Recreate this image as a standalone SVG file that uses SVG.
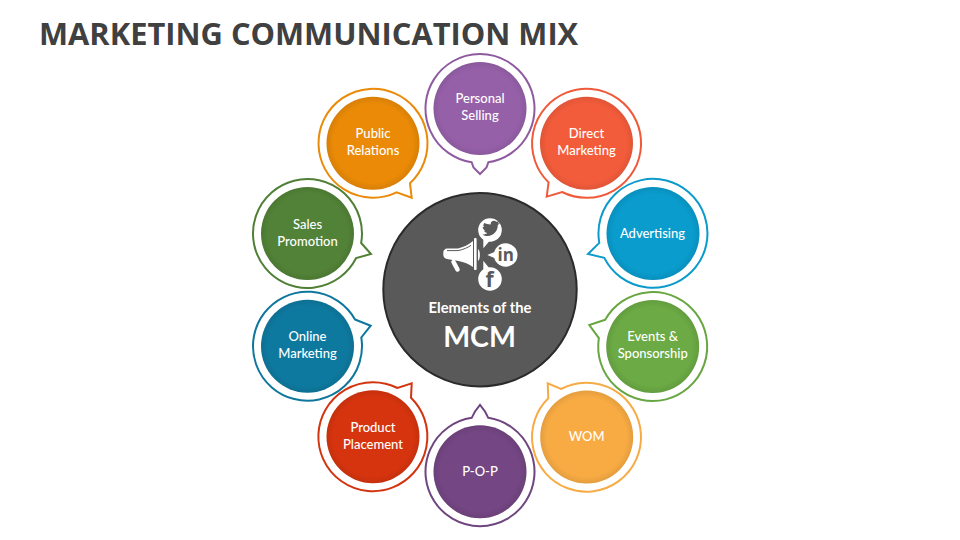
<svg xmlns="http://www.w3.org/2000/svg" width="960" height="540" viewBox="0 0 960 540">
<defs>
<radialGradient id="shade" cx="0.5" cy="0.5" r="0.5">
<stop offset="0.85" stop-color="#000" stop-opacity="0"/>
<stop offset="1" stop-color="#000" stop-opacity="0.08"/>
</radialGradient>
</defs>
<style>
.title{font-family:"Open Sans","Liberation Sans",sans-serif;font-weight:700;font-size:30.83px;fill:#404040}
.lbl{font-family:Lato,"Open Sans",sans-serif;font-size:13px;font-weight:500;fill:#fff;text-anchor:middle}
.ring{fill:#fff;stroke-width:2;stroke-linejoin:miter}
.sh{fill:url(#shade)}
.hub{font-family:Lato,"Open Sans",sans-serif;font-weight:700;fill:#fff;text-anchor:middle}
.ic{fill:#fff}
</style>
<rect width="960" height="540" fill="#fff"/>
<text class="title" x="39" y="45">MARKETING COMMUNICATION MIX</text>

<g id="node-personal-selling">
<path class="ring" stroke="#8E5BA0" d="M471.7 162.36 L473.5 167.5 L480 174 L486.5 167.5 L488.3 162.36 A54.5 54.5 0 1 0 471.7 162.36 Z"/>
<circle cx="480" cy="108.5" r="46.5" fill="#9660A9"/><circle class="sh" cx="480" cy="108.5" r="46.5"/>
<text class="lbl" x="480" y="102.7">Personal</text><text class="lbl" x="480" y="120">Selling</text>
</g>
<g id="node-direct-marketing">
<path class="ring" stroke="#F05A3A" d="M548.6 182.4 L546.7 196.7 L562.1 192 A54.5 54.5 0 1 0 548.6 182.4 Z"/>
<circle cx="586.5" cy="143.3" r="46.5" fill="#F35C3B"/><circle class="sh" cx="586.5" cy="143.3" r="46.5"/>
<text class="lbl" x="586.5" y="138">Direct</text><text class="lbl" x="586.5" y="155">Marketing</text>
</g>
<g id="node-advertising">
<path class="ring" stroke="#0A9BCB" d="M599.3 242.9 L588 254 L604.3 257.9 A54.5 54.5 0 1 0 599.3 242.9 Z"/>
<circle cx="653" cy="233.5" r="46.5" fill="#099CCD"/><circle class="sh" cx="653" cy="233.5" r="46.5"/>
<text class="lbl" x="652.5" y="237.7">Advertising</text>
</g>
<g id="node-events-sponsorship">
<path class="ring" stroke="#68A642" d="M605.2 319.8 L589.3 325 L598.85 338.1 A54.5 54.5 0 1 0 605.2 319.8 Z"/>
<circle cx="652.7" cy="346.5" r="46.5" fill="#6BAA44"/><circle class="sh" cx="652.7" cy="346.5" r="46.5"/>
<text class="lbl" x="652.7" y="341">Events &amp;</text><text class="lbl" x="652.7" y="358">Sponsorship</text>
</g>
<g id="node-wom">
<path class="ring" stroke="#F7AB45" d="M548.3 398.3 L547.7 383.3 L561 389 A54.5 54.5 0 1 1 548.3 398.3 Z"/>
<circle cx="586.7" cy="437" r="46.5" fill="#F8AB43"/><circle class="sh" cx="586.7" cy="437" r="46.5"/>
<text class="lbl" x="586.7" y="441">WOM</text>
</g>
<g id="node-pop">
<path class="ring" stroke="#6F4580" d="M471.7 417.84 L475 411.5 L480 405 L485 411.5 L488.3 417.84 A54.5 54.5 0 1 1 471.7 417.84 Z"/>
<circle cx="480" cy="471.7" r="46.5" fill="#744683"/><circle class="sh" cx="480" cy="471.7" r="46.5"/>
<text class="lbl" x="480" y="475.7">P-O-P</text>
</g>
<g id="node-product-placement">
<path class="ring" stroke="#D2340F" d="M411 397.7 L411.7 383.3 L397.45 388 A54.5 54.5 0 1 0 411 397.7 Z"/>
<circle cx="373" cy="436.7" r="46.5" fill="#D6340E"/><circle class="sh" cx="373" cy="436.7" r="46.5"/>
<text class="lbl" x="373" y="432">Product</text><text class="lbl" x="373" y="449">Placement</text>
</g>
<g id="node-online-marketing">
<path class="ring" stroke="#0F779D" d="M355 319.5 L370.7 325.7 L361.3 337.5 A54.5 54.5 0 1 1 355 319.5 Z"/>
<circle cx="307.5" cy="346.2" r="46.5" fill="#0E799F"/><circle class="sh" cx="307.5" cy="346.2" r="46.5"/>
<text class="lbl" x="307.5" y="341">Online</text><text class="lbl" x="307.5" y="358">Marketing</text>
</g>
<g id="node-sales-promotion">
<path class="ring" stroke="#507F36" d="M361.16 243 L371 254 L356.15 258.07 A54.5 54.5 0 1 1 361.16 243 Z"/>
<circle cx="307.5" cy="233.5" r="46.5" fill="#528237"/><circle class="sh" cx="307.5" cy="233.5" r="46.5"/>
<text class="lbl" x="307.5" y="229">Sales</text><text class="lbl" x="307.5" y="246">Promotion</text>
</g>
<g id="node-public-relations">
<path class="ring" stroke="#E98A09" d="M410 183.3 L411.7 197.7 L396.6 192.4 A54.5 54.5 0 1 1 410 183.3 Z"/>
<circle cx="373" cy="143.3" r="46.5" fill="#EA8A07"/><circle class="sh" cx="373" cy="143.3" r="46.5"/>
<text class="lbl" x="373" y="138">Public</text><text class="lbl" x="373" y="155">Relations</text>
</g>

<g id="connectors"></g>

<g id="node-center">
<circle cx="480" cy="289.7" r="96.7" fill="#595959" stroke="#2B2B2B" stroke-width="2"/>
<g id="icon">
<circle class="ic" cx="490" cy="230" r="11.8"/>
<path class="ic" d="M483.3 237 L483.3 248.3 L489.5 241 Z"/>
<circle class="ic" cx="505.7" cy="255" r="11.8"/>
<path class="ic" d="M496.7 251 L487.3 255 L496.7 259 Z"/>
<circle class="ic" cx="490" cy="279" r="11.8"/>
<path class="ic" d="M483.3 271 L483.3 260.7 L489.5 268.5 Z"/>
<path fill="#595959" transform="translate(491 228.3) scale(1.1) translate(-489 -230.4)" d="M483 225.5 C484.5 226.2 486 226.8 488.7 226.9 C488.3 224 491.7 222.3 494 224.5 C495 224.3 496 224 496.8 223.5 C496.5 224.6 495.8 225.3 495 225.9 C495.8 225.8 496.6 225.6 497.3 225.3 C496.7 226.2 496 226.9 495.2 227.4 C495.3 232.8 491 238 484.7 237.3 C483.3 237.1 482 236.7 481 236 C482.8 236.2 484.3 235.7 485.7 234.7 C484.2 234.6 483.1 233.7 482.6 232.4 C483.1 232.5 483.6 232.5 484.1 232.3 C482.5 232 481.4 230.5 481.4 228.9 C481.9 229.2 482.4 229.3 483 229.4 C481.6 228.3 481.9 226.6 483 225.5 Z"/>
<text x="505.7" y="260.5" style="font-family:'Open Sans',sans-serif;font-weight:700;font-size:17px;fill:#595959;text-anchor:middle">in</text>
<text x="489.5" y="286.7" style="font-family:'Open Sans',sans-serif;font-weight:700;font-size:21px;fill:#595959;text-anchor:middle">f</text>
<rect class="ic" x="474" y="238" width="2.6" height="32" rx="1"/>
<path class="ic" d="M443.3 252 C443.5 250 445 248.6 447 248.4 L458 248.4 C463 247.5 469 244.5 473 241 L473 267 C469 264 464 262 458.5 261 L447 259 C445 258.6 443.5 257.2 443.3 255 Z"/>
<path d="M447 250.6 L458 250.6 C463 249.7 468 247.5 471 245.3" fill="none" stroke="#595959" stroke-width="1"/>
<path d="M453.5 262 L457.5 269.5" stroke="#fff" stroke-width="4.5" stroke-linecap="round" fill="none"/>
<path class="ic" d="M478 249 C480.5 250.5 480.5 259.5 478 261 Z"/>
</g>
<text class="hub" x="480" y="313" font-size="14.8">Elements of the</text>
<text class="hub" x="479.5" y="346.7" font-size="28.5">MCM</text>
</g>
</svg>
